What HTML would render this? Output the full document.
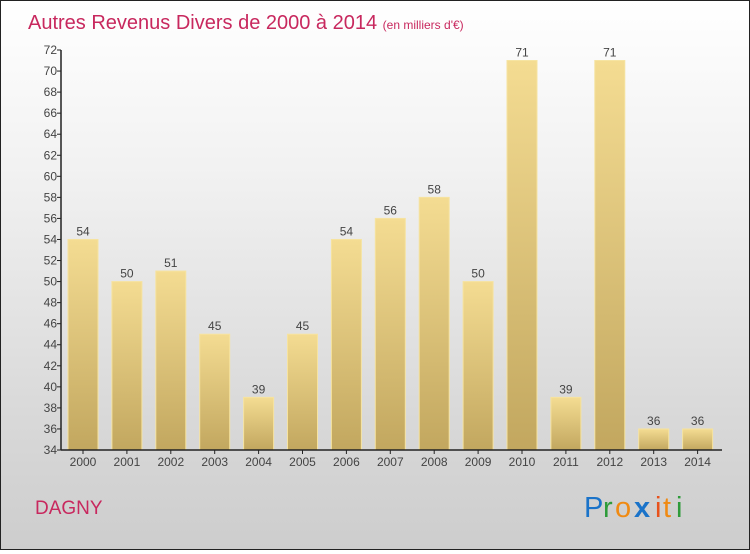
<!DOCTYPE html>
<html><head><meta charset="utf-8">
<style>
html,body{margin:0;padding:0}
body{width:750px;height:550px;overflow:hidden;font-family:"Liberation Sans",sans-serif}
#wrap{position:absolute;left:0;top:0;width:748px;height:548px;border:1px solid #222;background:linear-gradient(#ffffff,#f2f2f2 30%,#d9d9d9 75%,#cdcdcd)}
</style></head>
<body>
<div id="wrap">
<svg id="chart" width="748" height="548">
<defs>
<linearGradient id="bg" x1="0" y1="0" x2="0" y2="1">
<stop offset="0" stop-color="#f4dc92"/><stop offset="1" stop-color="#c2a75f"/>
</linearGradient>
</defs>
<text x="27" y="28" font-size="20" fill="#c8285e">Autres Revenus Divers de 2000 à 2014 <tspan font-size="12">(en milliers d'€)</tspan></text>
<text x="34" y="513" font-size="19" fill="#c8285e">DAGNY</text>
<g font-size="29">
<text x="583" y="516" fill="#1a73c9">P</text><text x="602" y="516" fill="#2e9b3a">r</text><text x="614" y="516" fill="#f08a12">o</text><text x="633" y="516" fill="#1a73c9" font-weight="bold">x</text><text x="654" y="516" fill="#e8521c">i</text><text x="662" y="516" fill="#f08a12">t</text><text x="675" y="516" fill="#2e9b3a">i</text>
</g>
<g id="plot"></g>
</svg>
</div>
<script>
const categories=["2000","2001","2002","2003","2004","2005","2006","2007","2008","2009","2010","2011","2012","2013","2014"];
const values=[54,50,51,45,39,45,54,56,58,50,71,39,71,36,36];
const yTicks=[34,36,38,40,42,44,46,48,50,52,54,56,58,60,62,64,66,68,70,72];
const yMin=34,yMax=72,top0=49,bot=449,axX=60,x0=82,step=43.9,bw=30;
const y=v=>bot-(v-yMin)/(yMax-yMin)*(bot-top0);
const x=i=>x0+i*step;
const g=document.getElementById('plot');
const NS='http://www.w3.org/2000/svg';
function mk(t,a){const e=document.createElementNS(NS,t);for(const k in a)e.setAttribute(k,a[k]);g.appendChild(e);return e;}
values.forEach((v,i)=>{
 const r=mk('rect',{x:x(i)-bw/2,y:y(v),width:bw,height:bot-y(v),fill:'url(#bg)',stroke:'#f6e3a0','stroke-width':1});
 
 
 const t=mk('text',{x:x(i),y:y(v)-4,'text-anchor':'middle','font-size':12,fill:'#444'});
 t.textContent=v;
 
 
 const c=mk('text',{x:x(i),y:bot+16,'text-anchor':'middle','font-size':12,fill:'#444'});
 c.textContent=categories[i];
 
 
 const tk=mk('line',{x1:x(i),x2:x(i),y1:bot,y2:bot+4,stroke:'#222'});
 
 
});
yTicks.forEach(v=>{
 const l=mk('line',{x1:axX-4,x2:axX,y1:y(v),y2:y(v),stroke:'#222'});
 
 
 const t=mk('text',{x:axX-4,y:y(v)+4,'text-anchor':'end','font-size':12,fill:'#444'});
 t.textContent=v;
 
 
});
const ya=mk('line',{x1:axX,x2:axX,y1:top0,y2:bot,stroke:'#222','stroke-width':1.5});


const xa=mk('line',{x1:axX,x2:721,y1:bot,y2:bot,stroke:'#222','stroke-width':1.5});


</script>
</body></html>
